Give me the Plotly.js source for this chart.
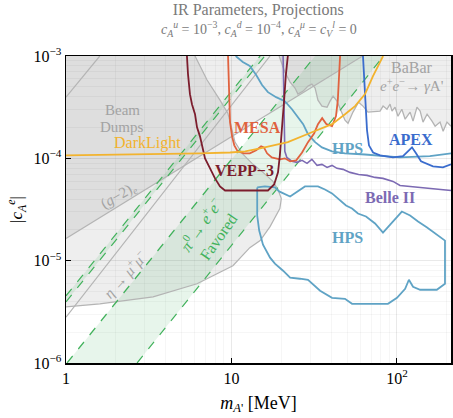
<!DOCTYPE html>
<html><head><meta charset="utf-8">
<script src="https://cdn.plot.ly/plotly-3.0.1.min.js"></script>
<style>html,body{margin:0;padding:0;background:#fff}</style>
</head><body><div id="chart" style="width:453px;height:418px"></div>
<script>
// ---- data (mass in MeV, coupling |c_A^e|) ----
const TOP = 1e-3, BOTTOM = 1e-6, MMIN = 1, MMAX = 212;

const bdMass = [6.02, 7.12, 8.52, 9.5, 10.1, 10.5, 11.6, 13.3, 15.5, 17.8, 19.1, 20.0, 19.6, 17.1, 14.9, 12.9, 10.2, 6.19, 3.36, 1.6, 1.0, 1.0];
const bdCoup = [1e-3, 5.82e-4, 3.70e-4, 2.76e-4, 1.88e-4, 1.44e-4, 1.12e-4, 8.93e-5, 7.29e-5, 5.95e-5, 4.96e-5, 4.05e-5, 3.23e-5, 2.15e-5, 1.57e-5, 1.34e-5, 8.93e-6, 5.95e-6, 4.43e-6, 3.79e-6, 3.54e-6, 1e-3];

const g2Mass = [1, 62];
const g2Coup = [1.65e-5, 1e-3];

const etaMass = [1, 17.1];
const etaCoup = [2.8e-6, 1e-3];

const cornerMass = [1, 1.6];
const cornerCoup = [3.96e-4, 1e-3];

const babarMass = [19.4, 21.0, 22.6, 24.2, 25.2, 27.1, 29.0, 30.6, 32.0, 33.3, 35.2, 37.8, 39.4, 41.1, 43.4, 45.3, 48.5, 50.6, 54.2, 58.6, 62.3, 66.8, 73.7, 79.0, 82.4, 87.0, 90.8, 93.3, 97.3, 101.4, 107, 112, 120, 125, 132, 138, 143.6, 152, 162.8, 170, 182, 190, 200.5, 212];
const babarCoup = [1e-3, 6.97e-4, 5.56e-4, 4.86e-4, 4.24e-4, 4.54e-4, 5.08e-4, 5.31e-4, 4.86e-4, 3.70e-4, 3.24e-4, 3.16e-4, 3.62e-4, 4.06e-4, 3.62e-4, 3.02e-4, 2.36e-4, 2.20e-4, 2.83e-4, 3.54e-4, 3.24e-4, 2.83e-4, 2.89e-4, 2.89e-4, 3.24e-4, 3.02e-4, 3.38e-4, 2.89e-4, 3.16e-4, 2.58e-4, 3.02e-4, 2.41e-4, 2.83e-4, 2.31e-4, 3.16e-4, 2.89e-4, 2.26e-4, 2.70e-4, 2.31e-4, 2.06e-4, 2.26e-4, 1.84e-4, 2.26e-4, 2.06e-4];

// pi0 -> e+e- favored bands (edges)
const piWideUpperMass = [1.014, 32];
const piWideUpperCoup = [1e-6, 1e-3];
const piWideLowerMass = [2.69, 83];
const piWideLowerCoup = [1e-6, 1e-3];
const piNarrowUpperMass = [1, 14.9];
const piNarrowUpperCoup = [4.54e-6, 1e-3];
const piNarrowLowerMass = [1, 15.9];
const piNarrowLowerCoup = [3.96e-6, 1e-3];

// projections
const darkLightMass = [1, 3.22, 6.45, 9.8, 12.1, 14.9, 21.9, 30.6, 40.5, 48.5, 55.8, 64.1, 71.6, 79.0, 82.4];
const darkLightCoup = [1.07e-4, 1.09e-4, 1.12e-4, 1.14e-4, 1.17e-4, 1.25e-4, 1.44e-4, 1.80e-4, 2.16e-4, 2.70e-4, 3.24e-4, 4.24e-4, 6.37e-4, 8.73e-4, 1e-3];

const mesaMass = [9.53, 9.66, 9.8, 10.1, 10.4, 10.9, 11.9, 12.9, 14.1, 15.1, 15.7, 16.4, 17.5, 19.6, 21.0, 22.6, 24.6, 26.7, 29.0, 31.6, 33.3, 35.3, 37.4, 40.5, 42.8, 43.9, 44.6, 45.3];
const mesaCoup = [1e-3, 4.64e-4, 2.26e-4, 1.61e-4, 1.34e-4, 1.17e-4, 1.12e-4, 1.12e-4, 1.2e-4, 1.31e-4, 1.28e-4, 1.12e-4, 1.02e-4, 9.78e-5, 1.0e-4, 9.35e-5, 9.56e-5, 1.14e-4, 1.44e-4, 1.76e-4, 2.16e-4, 2.47e-4, 2.16e-4, 2.06e-4, 2.59e-4, 3.7e-4, 6.51e-4, 1e-3];

const veppMass = [5.38, 5.46, 5.61, 5.77, 6.02, 6.19, 6.45, 6.63, 6.92, 7.42, 7.95, 8.52, 9.14, 11.3, 13.9, 16.6, 18.1, 19.1, 19.6, 20.2, 20.8, 21.3, 21.9];
const veppCoup = [1e-3, 6.66e-4, 4.24e-4, 3.38e-4, 2.70e-4, 2.01e-4, 1.64e-4, 1.31e-4, 1.0e-4, 7.98e-5, 6.37e-5, 5.31e-5, 4.85e-5, 4.85e-5, 4.85e-5, 4.85e-5, 5.56e-5, 7.29e-5, 1.07e-4, 1.88e-4, 3.7e-4, 6.51e-4, 1e-3];

const hpsMass = [10.6, 11.7, 12.9, 14.1, 15.3, 16.6, 18.6, 21.0, 23.2, 25.2, 27.1, 29.0, 32.0, 35.2, 40.5, 48.5, 64.1, 104, 158, 212];
const hpsCoup = [1e-3, 8.73e-4, 7.98e-4, 6.51e-4, 5.2e-4, 4.43e-4, 3.96e-4, 3.62e-4, 3.02e-4, 2.52e-4, 2.16e-4, 1.72e-4, 1.44e-4, 1.28e-4, 1.17e-4, 1.12e-4, 1.09e-4, 1.02e-4, 1.05e-4, 1.12e-4];

const hpsLoopMass = [14.3, 15.9, 18.3, 19.4, 22.6, 25.2, 27.8, 33.3, 36.7, 40.5, 45.3, 49.2, 53.5, 58.1, 65.0, 73.7, 82.3, 93.3, 107, 120, 134, 152, 172, 195, 195, 195, 174, 138, 125, 118, 112, 100, 88.2, 68.7, 53.5, 48.5, 40.5, 34.3, 29.0, 25.9, 22.6, 20.5, 18.3, 17.1, 15.5, 14.7, 14.3, 14.3, 14.3];
const hpsLoopCoup = [5.20e-5, 5.31e-5, 5.20e-5, 4.75e-5, 4.24e-5, 4.75e-5, 5.31e-5, 5.31e-5, 4.96e-5, 4.54e-5, 3.87e-5, 3.46e-5, 3.23e-5, 2.89e-5, 2.70e-5, 2.31e-5, 1.88e-5, 2.36e-5, 3.02e-5, 2.76e-5, 2.41e-5, 2.11e-5, 1.84e-5, 1.57e-5, 9.56e-6, 5.95e-6, 5.20e-6, 5.20e-6, 5.56e-6, 6.51e-6, 5.31e-6, 4.33e-6, 3.79e-6, 3.79e-6, 3.79e-6, 4.24e-6, 4.33e-6, 5.08e-6, 6.51e-6, 6.66e-6, 6.81e-6, 7.98e-6, 9.35e-6, 1.07e-5, 1.43e-5, 1.97e-5, 2.76e-5, 3.87e-5, 5.20e-5];

const apexMass = [62.3, 64.1, 65.9, 67.7, 71.7, 79.0, 94.6, 108.7, 116.6, 123.2, 130.3, 139.7, 165, 189.6, 212];
const apexCoup = [1e-3, 4.64e-4, 1.88e-4, 1.34e-4, 1.14e-4, 1.07e-4, 1.02e-4, 1.05e-4, 1.17e-4, 1.28e-4, 1.12e-4, 9.35e-5, 8.35e-5, 8.16e-5, 8.73e-5];

const belleMass = [20.5, 20.8, 21.0, 21.6, 23.2, 24.9, 26.7, 28.6, 30.6, 32.9, 35.2, 37.8, 40.5, 43.4, 47.2, 52.0, 58.6, 65.9, 73.7, 82.3, 94.6, 104.3, 137.7, 212];
const belleCoup = [1e-3, 3.7e-4, 1.17e-4, 1.02e-4, 9.35e-5, 9.14e-5, 9.56e-5, 8.93e-5, 9.78e-5, 8.53e-5, 8.73e-5, 8.16e-5, 8.53e-5, 7.98e-5, 7.80e-5, 7.29e-5, 6.96e-5, 6.81e-5, 6.51e-5, 6.37e-5, 5.95e-5, 5.43e-5, 5.20e-5, 4.85e-5];

// tick labels
const xTickVals = [1, 10, 100];
const xTickText = ['1', '10', '10<sup>2</sup>'];
const yTickVals = [1e-6, 1e-5, 1e-4, 1e-3];
const yTickText = ['10<sup>−6</sup>', '10<sup>−5</sup>', '10<sup>−4</sup>', '10<sup>−3</sup>'];

// labels: text, mass, coupling
const labelText = ['Beam', 'Dumps', 'DarkLight', '<b>MESA</b>', '<b>VEPP−3</b>', '<b>HPS</b>', '<b>APEX</b>', '<b>Belle II</b>', '<b>HPS</b>', 'BaBar', '<i>e</i><sup>+</sup><i>e</i><sup>−</sup>→ <i>γ</i>A\'', '(<i>g</i>−2)<sub><i>e</i></sub>', '<i>η</i> → <i>μ</i><sup>+</sup><i>μ</i><sup>−</sup>', '<i>π</i><sup>0</sup>→ <i>e</i><sup>+</sup><i>e</i><sup>−</sup><br>Favored'];
const labelMass = [2.18, 2.18, 3.09, 14.3, 11.9, 49.9, 121.5, 90.7, 49.9, 123, 123, 2.09, 2.27, 7.31];
const labelCoup = [2.95e-4, 2.03e-4, 1.40e-4, 2.01e-4, 7.62e-5, 1.25e-4, 1.53e-4, 4.15e-5, 1.68e-5, 7.8e-4, 5.2e-4, 4.24e-5, 7.46e-6, 1.97e-5];

// ---- styles ----
const GRAYFILL = 'rgba(0,0,0,0.065)';
const GRAYLINE = '#b4b4b4';
const GREEN = '#42b25c';
const GREENFILL = 'rgba(70,180,100,0.13)';
const C = {dark:'#f2b32e', mesa:'#e0623f', vepp:'#7c1d2d', hps:'#5fa3c5', apex:'#3a6ccd', belle:'#7c6ab3'};
const labelColor = ['#a3a3a3', '#a3a3a3', C.dark, C.mesa, C.vepp, C.hps, C.apex, C.belle, C.hps, '#a3a3a3', '#a3a3a3', '#a3a3a3', '#a3a3a3', GREEN];
const labelAngle = [0, 0, 0, 0, 0, 0, 0, 0, 0, 0, 0, -30, -48, -55];
const labelSize = [15, 15, 16, 16, 16, 16, 16, 16, 16, 16, 15, 15, 15, 16];

function line(x, y, color, width, dash) {
  return {type:'scatter', mode:'lines', x:x, y:y, line:{color:color, width:width, dash:dash||'solid'}, hoverinfo:'skip', showlegend:false};
}
function area(x, y, fc) {
  return {type:'scatter', mode:'lines', x:x, y:y, fill:'toself', fillcolor:fc, line:{width:0}, hoverinfo:'skip', showlegend:false};
}

const traces = [
  area(bdMass, bdCoup, GRAYFILL),
  area(g2Mass.concat([MMIN]), g2Coup.concat([TOP]), GRAYFILL),
  area(babarMass.concat([MMAX]), babarCoup.concat([TOP]), GRAYFILL),
  area(piWideUpperMass.concat(piWideLowerMass.slice().reverse()), piWideUpperCoup.concat(piWideLowerCoup.slice().reverse()), GREENFILL),
  area(piNarrowUpperMass.concat(piNarrowLowerMass.slice().reverse()), piNarrowUpperCoup.concat(piNarrowLowerCoup.slice().reverse()), GREENFILL),
  line(bdMass.slice(0, 21), bdCoup.slice(0, 21), GRAYLINE, 1.2),
  line(g2Mass, g2Coup, GRAYLINE, 1.2),
  line(etaMass, etaCoup, GRAYLINE, 1.2),
  line(cornerMass, cornerCoup, GRAYLINE, 1.2),
  line(babarMass, babarCoup, GRAYLINE, 1.3),
  line(piWideUpperMass, piWideUpperCoup, GREEN, 1.2, 'dash'),
  line(piWideLowerMass, piWideLowerCoup, GREEN, 1.2, 'dash'),
  line(piNarrowUpperMass, piNarrowUpperCoup, GREEN, 1.2, 'dash'),
  line(piNarrowLowerMass, piNarrowLowerCoup, GREEN, 1.2, 'dash'),
  line(hpsLoopMass, hpsLoopCoup, C.hps, 1.8),
  line(hpsMass, hpsCoup, C.hps, 1.8),
  line(belleMass, belleCoup, C.belle, 1.6),
  line(apexMass, apexCoup, C.apex, 1.8),
  line(mesaMass, mesaCoup, C.mesa, 1.8),
  line(veppMass, veppCoup, C.vepp, 1.8),
  line(darkLightMass, darkLightCoup, C.dark, 1.8)
];

const FONT = 'Liberation Serif, Times New Roman, serif';
const annotations = labelText.map(function (t, i) {
  return {text:t, x:Math.log10(labelMass[i]), y:Math.log10(labelCoup[i]), xref:'x', yref:'y',
    xanchor:'center', yanchor:'middle',
    showarrow:false, textangle:labelAngle[i], font:{family:FONT, size:labelSize[i], color:labelColor[i]}, align:'center'};
});
annotations.push({text:'<i>c</i><sub><i>A</i></sub><sup><i>u</i></sup> = 10<sup>−3</sup>, <i>c</i><sub><i>A</i></sub><sup><i>d</i></sup> = 10<sup>−4</sup>, <i>c</i><sub><i>A</i></sub><sup><i>μ</i></sup> = <i>c</i><sub><i>V</i></sub><sup><i>l</i></sup> = 0',
  x:0.5, y:1.089, xref:'paper', yref:'paper', xanchor:'center', yanchor:'middle', showarrow:false, font:{family:FONT, size:14, color:'#7a7a7a'}});

const axisCommon = {type:'log', showline:true, mirror:true, linecolor:'#000', linewidth:1.5,
  ticks:'inside', ticklen:5, tickwidth:1, tickcolor:'#000', showgrid:true, gridcolor:'rgba(0,0,0,0.05)', zeroline:false,
  tickfont:{family:FONT, size:16, color:'#000'}};

const layout = {
  width:453, height:418, margin:{l:66, r:2, t:56, b:55},
  paper_bgcolor:'#fff', plot_bgcolor:'#fff',
  font:{family:FONT},
  title:{text:'IR Parameters, Projections', x:0.57, xanchor:'center', y:0.978, yanchor:'middle', font:{family:FONT, size:16, color:'#7a7a7a'}},
  xaxis:Object.assign({}, axisCommon, {range:[Math.log10(MMIN), Math.log10(MMAX)], tickvals:xTickVals, ticktext:xTickText,
    minor:{ticks:'', showgrid:true, gridcolor:'rgba(0,0,0,0.035)', dtick:'D1'},
    title:{text:'<i>m</i><sub><i>A</i>\'</sub> [MeV]', font:{family:FONT, size:18, color:'#000'}, standoff:10}}),
  yaxis:Object.assign({}, axisCommon, {range:[Math.log10(BOTTOM), Math.log10(TOP)], tickvals:yTickVals, ticktext:yTickText,
    minor:{ticks:'', showgrid:true, gridcolor:'rgba(0,0,0,0.035)', dtick:'D1'},
    title:{text:'|<i>c</i><sub><i>A</i></sub><sup><i>e</i></sup>|', font:{family:FONT, size:17, color:'#000'}, standoff:6}}),
  annotations:annotations
};

Plotly.newPlot('chart', traces, layout, {staticPlot:true, displayModeBar:false});
</script></body></html>
